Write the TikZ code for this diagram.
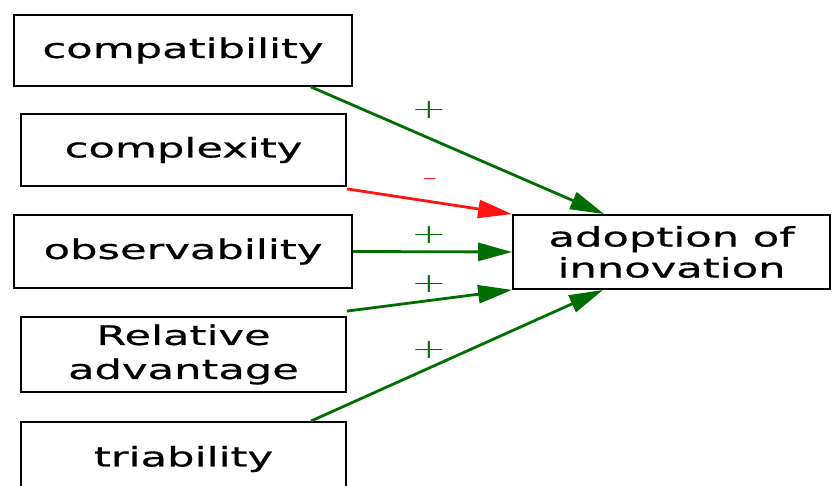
\documentclass[tikz,border=0pt]{standalone}
\usepackage{fontspec}
\newfontfamily\dfont[FakeStretch=1.6,FakeBold=0.6]{DejaVu Sans}
\newfontfamily\lfont[FakeStretch=1.6]{DejaVu Sans ExtraLight}
\usetikzlibrary{arrows.meta}
\definecolor{pgreen}{RGB}{0,110,0}
\definecolor{pred}{RGB}{255,20,20}
\begin{document}
\begin{tikzpicture}[x=1pt,y=-1pt,
  box/.style={draw=black, line width=1.8pt, fill=white, inner sep=0pt, align=center,
    font=\dfont\fontsize{27}{33}\selectfont},
  posarrow/.style={draw=pgreen, line width=2.8pt, -{Triangle[length=34pt,width=18pt]}},
  negarrow/.style={draw=pred, line width=2.8pt, -{Triangle[length=34pt,width=18pt]}},
  lab/.style={inner sep=0pt, font=\lfont\fontsize{27}{27}\selectfont}]
\useasboundingbox (0,0) rectangle (832,486);
\clip (0,0) rectangle (832,486);
\node[box, minimum width=338pt, minimum height=71pt] (c1) at (183,50.5) {\raisebox{-2pt}{compatibility}};
\node[box, minimum width=325pt, minimum height=72pt] (c2) at (183.5,150) {complexity};
\node[box, minimum width=338pt, minimum height=73pt] (c3) at (183,251.5) {observability};
\node[box, minimum width=325pt, minimum height=75pt, font=\dfont\fontsize{27}{34}\selectfont] (c4) at (183.5,354.5) {Relative\\advantage};
\node[box, minimum width=325pt, minimum height=74pt] (c5) at (183.5,459) {triability};
\node[box, minimum width=317pt, minimum height=74pt, font=\dfont\fontsize{27}{31}\selectfont] (t) at (671.5,252) {adoption of\\innovation};
\draw[posarrow] ([xshift=-42pt]c1.south east) -- ([xshift=92pt]t.north west);
\draw[negarrow] ([yshift=-2pt]c2.south east) -- (t.north west);
\draw[posarrow] (c3.east) -- (t.west);
\draw[posarrow] ([yshift=5pt]c4.north east) -- (t.south west);
\draw[posarrow] ([xshift=-36pt]c5.north east) -- ([xshift=91pt]t.south west);
\node[lab, text=pgreen] (l1) at (429,110) {+};
\node[lab, text=pred] (l2) at (430,183) {-};
\node[lab, text=pgreen] (l3) at (429,235) {+};
\node[lab, text=pgreen] (l4) at (429,284) {+};
\node[lab, text=pgreen] (l5) at (429,350) {+};
\end{tikzpicture}
\end{document}
